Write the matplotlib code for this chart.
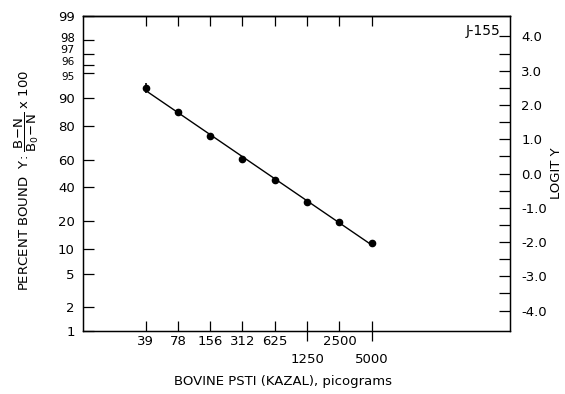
import numpy as np
import matplotlib
matplotlib.use("Agg")
import matplotlib.pyplot as plt
from matplotlib.ticker import FixedLocator, NullFormatter
from matplotlib.transforms import ScaledTranslation

# data (percent bound vs dose)
dose_pg = [39, 78, 156, 312, 625, 1250, 2500, 5000]
percent_bound = [92.4, 85.6, 75.1, 60.6, 45.2, 30.6, 19.4, 11.6]
err_low = [1.2, 0.6, 0.0, 0.0, 0.0, 0.0, 0.0, 0.0]
err_high = [1.0, 0.6, 0.0, 0.0, 0.0, 0.0, 0.0, 0.0]

pct_ticks = [1, 2, 5, 10, 20, 40, 60, 80, 90, 95, 96, 97, 98, 99]
logit_ticks = [-4, -3, -2, -1, 0, 1, 2, 3, 4]
x_major = [39, 78, 156, 312, 625, 2500]
x_lower = [1250, 5000]

plt.rcParams["font.family"] = "DejaVu Sans"
plt.rcParams["font.size"] = 9.5

fig = plt.figure(figsize=(5.65, 3.94), dpi=100)
ax = fig.add_axes([83 / 565, 1 - 331 / 394, (510 - 83) / 565, (331 - 16) / 394])

y = np.array(percent_bound) / 100
ax.set_xscale("log", base=2)
ax.set_yscale("logit")
ax.set_xlim(10.2, 97000)
ax.set_ylim(0.01, 0.99)

# fitted line in logit / log-dose space
lx = np.log(dose_pg)
ly = np.log(y / (1 - y))
k, b = np.polyfit(lx, ly, 1)
xf = np.array([dose_pg[0], dose_pg[-1]])
yf = 1 / (1 + np.exp(-(k * np.log(xf) + b)))
ax.plot(xf, yf, color="black", lw=1.0)

ax.errorbar(dose_pg, y, yerr=[np.array(err_low) / 100, np.array(err_high) / 100],
            fmt="o", color="black", ms=4.5, elinewidth=1.2, capsize=0)

# left: percent ticks
ax.yaxis.set_major_locator(FixedLocator([p / 100 for p in pct_ticks]))
ax.yaxis.set_minor_locator(FixedLocator([]))
ax.set_yticklabels([str(p) for p in pct_ticks])
ax.tick_params(axis="y", direction="in", length=8, width=0.9, pad=6)
# the 95..98 labels sit very close together, squeeze them a little
nudge = {"98": 2.0, "97": 3.5, "96": 2.5, "95": -2.5}
for lab in ax.get_yticklabels():
    t = lab.get_text()
    if t in nudge:
        lab.set_fontsize(8.5 if t == "98" else (8 if t == "97" else 7.5))
        lab.set_transform(lab.get_transform() +
                          ScaledTranslation(0, nudge[t] / 72, fig.dpi_scale_trans))

# bottom ticks, two rows of labels
ax.xaxis.set_major_locator(FixedLocator(x_major))
ax.xaxis.set_minor_formatter(NullFormatter())
ax.set_xticklabels([str(v) for v in x_major])
ax.set_xticks(x_lower, [str(v) for v in x_lower], minor=True)
ax.tick_params(axis="x", which="major", direction="in", length=7, width=0.9, pad=3)
ax.tick_params(axis="x", which="minor", direction="inout", length=14, width=0.9, pad=9)

# top: inward ticks only
top = ax.secondary_xaxis("top")
top.set_xticks(sorted(x_major + x_lower), [])
top.tick_params(axis="x", direction="in", length=7, width=0.9)
top.xaxis.set_minor_locator(FixedLocator([]))

for s in ax.spines.values():
    s.set_linewidth(1.0)
top.spines["top"].set_linewidth(1.0)

# right: logit axis
ax2 = ax.twinx()
ax2.set_ylim(np.log(0.01 / 0.99), np.log(0.99 / 0.01))
ax2.yaxis.set_major_locator(FixedLocator(logit_ticks))
ax2.yaxis.set_minor_locator(FixedLocator([t + 0.5 for t in logit_ticks[:-1]]))
ax2.set_yticklabels(["%.1f" % t for t in logit_ticks])
ax2.tick_params(axis="y", which="major", direction="in", length=8, width=0.9, pad=8)
ax2.tick_params(axis="y", which="minor", direction="in", length=8, width=0.9)
ax2.set_ylabel("LOGIT Y", labelpad=2)

ax.text(0.978, 0.975, "J-155", transform=ax.transAxes, ha="right", va="top",
        fontsize=10)

fig.text(27 / 565, 1 - 180 / 394,
         r"PERCENT BOUND  Y: $\dfrac{\mathrm{B\!-\!N}}{\mathrm{B_0\!-\!N}}$ x 100",
         rotation=90, ha="center", va="center")
fig.text(283 / 565, 1 - 382 / 394, "BOVINE PSTI (KAZAL), picograms",
         ha="center", va="center")

fig.savefig("out.png", dpi=100)
